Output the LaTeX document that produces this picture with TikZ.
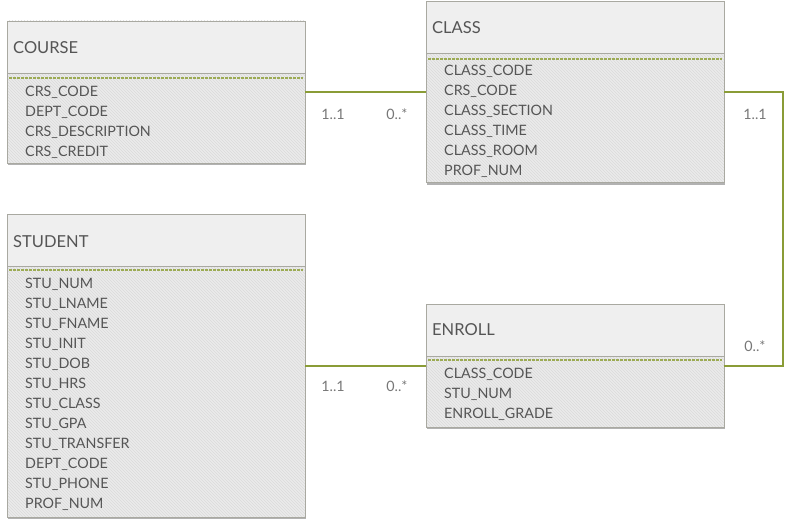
\documentclass[tikz,border=0pt]{standalone}
\usepackage{fontspec}
\setmainfont{Lato}
\usetikzlibrary{shadows,patterns}
\definecolor{linkgreen}{HTML}{8A9C36}
\definecolor{headgray}{HTML}{EFEFEF}
\definecolor{bodygray}{HTML}{EBEBEB}
\definecolor{hatchgray}{HTML}{DADADA}
\definecolor{edgegray}{HTML}{A9A9A1}
\definecolor{textgray}{HTML}{555555}
\tikzset{
	entity/.style={rectangle, draw=edgegray, minimum width=298pt, inner sep=0pt,
		drop shadow={shadow xshift=1pt, shadow yshift=-2pt, opacity=0.3, fill=black},
		preaction={fill=bodygray}, pattern=north west lines, pattern color=hatchgray},
	head/.style={draw=edgegray, fill=headgray},
	keyline/.style={draw=linkgreen!85, line width=1.2pt, dash pattern=on 2.5pt off 1.5pt},
	title/.style={anchor=west, inner sep=0pt, text=textgray, font=\fontsize{16.5}{18}\selectfont},
	attr/.style={anchor=west, inner sep=0pt, text=textgray, font=\fontsize{14.3}{15}\selectfont},
	mult/.style={inner sep=0pt, text=textgray!80, font=\fontsize{14.3}{15}\selectfont},
	link/.style={draw=linkgreen, line width=2pt},
}
\begin{document}
\begin{tikzpicture}[x=1pt, y=-1pt]
				\useasboundingbox (0,0) rectangle (786,527);
				% entities
				\node[entity, minimum height=142pt] (course) at (156,92) {};
				\node[entity, minimum height=181pt] (class) at (575,92) {};
				\node[entity, minimum height=303pt] (student) at (156,365.5) {};
				\node[entity, minimum height=123pt] (enroll) at (575,365.5) {};
				\filldraw[head] (course.north west) rectangle ++(298,52);
				\filldraw[head] (class.north west) rectangle ++(298,51.5);
				\filldraw[head] (student.north west) rectangle ++(298,52);
				\filldraw[head] (enroll.north west) rectangle ++(298,52);
				\draw[keyline] (9,78) -- (303,78);
				\draw[keyline] (428,59) -- (722,59);
				\draw[keyline] (9,270) -- (303,270);
				\draw[keyline] (428,360) -- (722,360);
				\node[title] (course-title) at (13,48) {COURSE};
				\node[title] (class-title) at (432,28) {CLASS};
				\node[title] (student-title) at (13,242) {STUDENT};
				\node[title] (enroll-title) at (432,330) {ENROLL};
				% attributes
				\foreach \a [count=\i] in {CRS\_CODE,DEPT\_CODE,CRS\_DESCRIPTION,CRS\_CREDIT}
				{
					\node[attr] (course-\i) at (25,72+20*\i) {\a};
				}
				\foreach \a [count=\i] in {CLASS\_CODE,CRS\_CODE,CLASS\_SECTION,CLASS\_TIME,CLASS\_ROOM,PROF\_NUM}
				{
					\node[attr] (class-\i) at (444,51+20*\i) {\a};
				}
				\foreach \a [count=\i] in {STU\_NUM,STU\_LNAME,STU\_FNAME,STU\_INIT,STU\_DOB,STU\_HRS,STU\_CLASS,STU\_GPA,STU\_TRANSFER,DEPT\_CODE,STU\_PHONE,PROF\_NUM}
				{
					\node[attr] (student-\i) at (25,264+20*\i) {\a};
				}
				\foreach \a [count=\i] in {CLASS\_CODE,STU\_NUM,ENROLL\_GRADE}
				{
					\node[attr] (enroll-\i) at (444,354+20*\i) {\a};
				}
				% relationships
				\draw[link] (course.east) -- (class.west);
				\draw[link] (student.east) -- (enroll.west);
				\draw[link] (class.east) -- ++(59,0) |- (enroll.east);
				\node[mult] at (333,114) {1..1};
				\node[mult] at (397,114) {0..*};
				\node[mult] at (755,114) {1..1};
				\node[mult] at (755,346) {0..*};
				\node[mult] at (333,386) {1..1};
				\node[mult] at (397,386) {0..*};
			\end{tikzpicture}
\end{document}
